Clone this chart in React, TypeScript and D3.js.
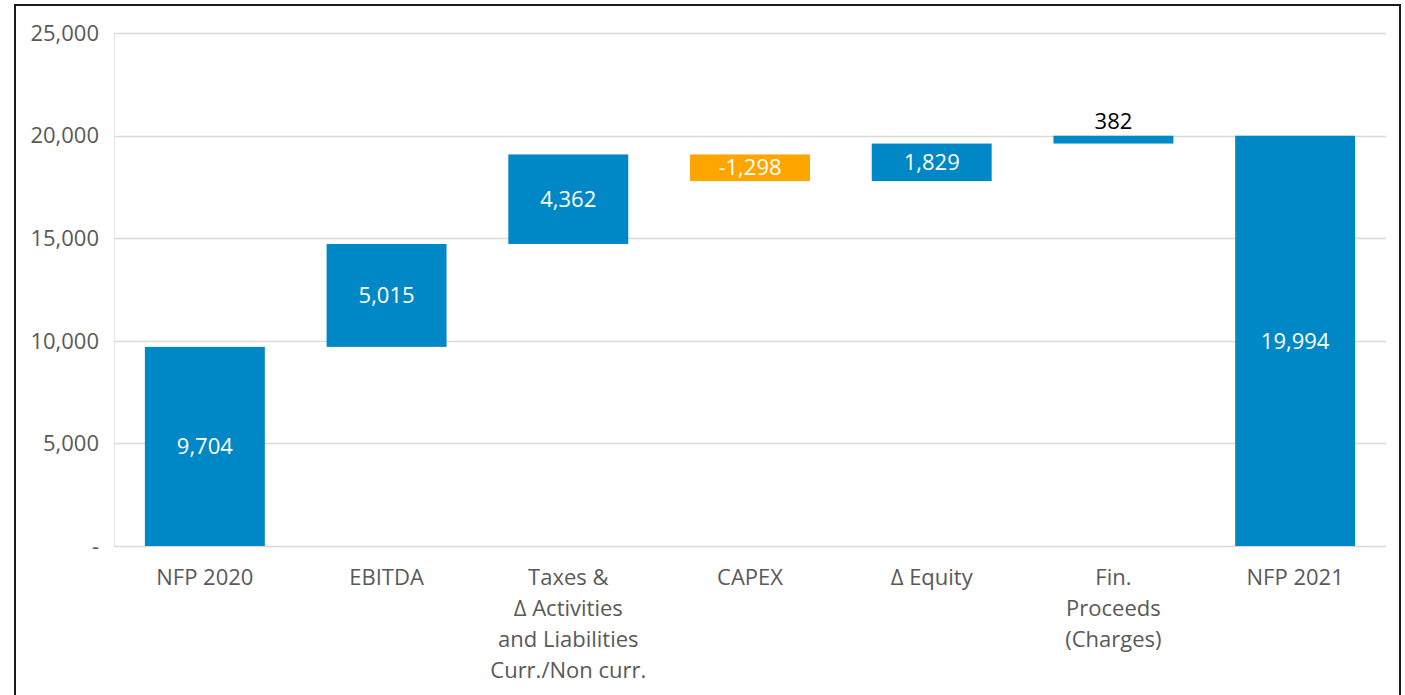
import React, { useEffect, useRef } from 'react';
import * as d3 from 'd3';

const categories = [
  ['NFP 2020'],
  ['EBITDA'],
  ['Taxes &', 'Δ Activities', 'and Liabilities', 'Curr./Non curr.'],
  ['CAPEX'],
  ['Δ Equity'],
  ['Fin.', 'Proceeds', '(Charges)'],
  ['NFP 2021'],
];
const values = [9704, 5015, 4362, -1298, 1829, 382, 19994];
const isTotal = [true, false, false, false, false, false, true];
const yTicks = [0, 5000, 10000, 15000, 20000, 25000];

const W = 1405;
const H = 695;
const BLUE = '#0088c6';
const ORANGE = '#ffa500';
const FONT = '"Open Sans", sans-serif';

// d3's ',' format uses a unicode minus; the source uses a plain hyphen
const fmt = (v: number) => d3.format(',')(v).replace('\u2212', '-');

export default function App() {
  const ref = useRef<SVGSVGElement>(null);

  useEffect(() => {
    const svg = d3.select(ref.current);
    svg.selectAll('*').remove();

    // running totals for waterfall
    let run = 0;
    const bars = values.map((v, i) => {
      let start, end;
      if (isTotal[i]) {
        start = 0;
        end = v;
        run = v;
      } else {
        start = run;
        end = run + v;
        run = end;
      }
      return { i, v, start, end };
    });

    const x = d3.scaleBand<number>()
      .domain(d3.range(categories.length))
      .range([114, 1386])
      .paddingInner(0.34)
      .paddingOuter(0.17);

    const y = d3.scaleLinear().domain([0, 25000]).range([546, 33]);

    // border
    svg.append('rect')
      .attr('x', 15).attr('y', 5)
      .attr('width', 1385).attr('height', 720)
      .attr('fill', 'none')
      .attr('stroke', '#1a1a1a')
      .attr('stroke-width', 2);

    // gridlines
    svg.append('g')
      .selectAll('line')
      .data(yTicks)
      .enter()
      .append('line')
      .attr('x1', 114).attr('x2', 1386)
      .attr('y1', d => Math.round(y(d)) + 0.5)
      .attr('y2', d => Math.round(y(d)) + 0.5)
      .attr('stroke', '#d9d9d9')
      .attr('stroke-width', 1.5);

    // left axis border
    svg.append('line')
      .attr('x1', 114.5).attr('x2', 114.5)
      .attr('y1', y(25000)).attr('y2', y(0))
      .attr('stroke', '#e6e6e6');

    // y labels
    svg.append('g')
      .selectAll('text')
      .data(yTicks)
      .enter()
      .append('text')
      .attr('x', 99)
      .attr('y', d => y(d))
      .attr('dy', '0.35em')
      .attr('text-anchor', 'end')
      .attr('font-family', FONT)
      .attr('font-size', 22)
      .attr('fill', '#595959')
      .text(d => (d === 0 ? '-' : fmt(d)));

    // bars
    svg.append('g')
      .selectAll('rect')
      .data(bars)
      .enter()
      .append('rect')
      .attr('x', d => x(d.i)!)
      .attr('width', x.bandwidth())
      .attr('y', d => y(Math.max(d.start, d.end)))
      .attr('height', d => Math.abs(y(d.start) - y(d.end)))
      .attr('fill', d => (d.v < 0 ? ORANGE : BLUE));

    // value labels
    svg.append('g')
      .selectAll('text')
      .data(bars)
      .enter()
      .append('text')
      .attr('x', d => x(d.i)! + x.bandwidth() / 2)
      .attr('y', d => {
        const h = Math.abs(y(d.start) - y(d.end));
        if (h < 20) return y(Math.max(d.start, d.end)) - 14;
        return (y(d.start) + y(d.end)) / 2;
      })
      .attr('dy', '0.35em')
      .attr('text-anchor', 'middle')
      .attr('font-family', FONT)
      .attr('font-size', 22)
      .attr('fill', d => (Math.abs(y(d.start) - y(d.end)) < 20 ? '#000' : '#fff'))
      .text(d => fmt(d.v));

    // category labels
    const cat = svg.append('g')
      .selectAll('text')
      .data(categories)
      .enter()
      .append('text')
      .attr('text-anchor', 'middle')
      .attr('font-family', FONT)
      .attr('font-size', 22)
      .attr('fill', '#595959');

    cat.each(function (lines, i) {
      const t = d3.select(this);
      lines.forEach((ln, j) => {
        t.append('tspan')
          .attr('x', x(i)! + x.bandwidth() / 2)
          .attr('y', 577 + j * 31)
          .attr('dy', '0.35em')
          .text(ln);
      });
    });
  }, []);

  return (
    <svg
      ref={ref}
      width={W}
      height={H}
      style={{ position: 'absolute', left: 0, top: 0, background: '#fff' }}
    />
  );
}
